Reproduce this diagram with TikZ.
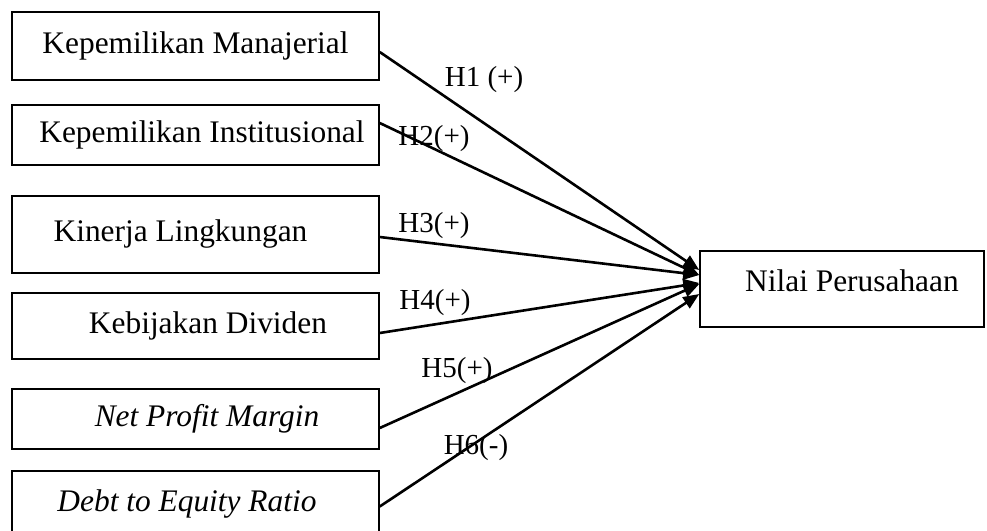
\documentclass[tikz,border=0pt]{standalone}
\usepackage{fontspec}
\setmainfont{Liberation Serif}
\usetikzlibrary{arrows.meta}

\begin{document}
\begin{tikzpicture}[x=0.5pt,y=-0.5pt,-{Triangle[length=8pt,width=6.5pt]},line width=1.3pt]
    \tikzstyle{var}=[draw, rectangle, line width=0.75pt, minimum width=183.5pt, inner sep=0pt, font=\fontsize{15.7}{19}\selectfont]
    \tikzstyle{hyp}=[inner sep=0pt, font=\fontsize{14.5}{17}\selectfont]
    \useasboundingbox (0,0) rectangle (987,531);
    \node [var, minimum height=34pt] (km) at (195.5, 46) {Kepemilikan Manajerial};
    \node [var, minimum height=30pt] (ki) at (195.5, 135) {\hspace*{6.5pt}Kepemilikan Institusional};
    \node [var, minimum height=38.5pt] (kl) at (195.5, 234.5) {\hspace*{-15pt}\raisebox{4pt}{Kinerja Lingkungan}};
    \node [var, minimum height=33pt] (kd) at (195.5, 326) {\hspace*{12.5pt}Kebijakan Dividen};
    \node [var, minimum height=30pt] (npm) at (195.5, 419) {\hspace*{11.5pt}\itshape Net Profit Margin};
    \node [var, minimum height=35.5pt] (der) at (195.5, 506.5) {\hspace*{-8.5pt}\raisebox{5.5pt}{\itshape Debt to Equity Ratio}};
    \node [var, minimum width=142pt, minimum height=38pt] (np) at (842, 289) {\hspace*{10pt}\raisebox{8pt}{Nilai Perusahaan}};

    \draw ([yshift=-3pt]km.east) -- ([yshift=9.5pt]np.west);
    \draw ([yshift=6pt]ki.east) -- ([yshift=7pt]np.west);
    \draw ([yshift=-1.25pt]kl.east) -- ([yshift=7pt]np.west);
    \draw ([yshift=-3.5pt]kd.east) -- ([yshift=3pt]np.west);
    \draw ([yshift=-4.5pt]npm.east) -- ([yshift=2.5pt]np.west);
    \draw (der.east) -- ([yshift=-2.5pt]np.west);

    \node [hyp] (h1) at (484, 80) {H1 (+)};
    \node [hyp] (h2) at (434, 139) {H2(+)};
    \node [hyp] (h3) at (434, 226) {H3(+)};
    \node [hyp] (h4) at (435, 303) {H4(+)};
    \node [hyp] (h5) at (457, 371) {H5(+)};
    \node [hyp] (h6) at (476, 448) {H6(-)};
\end{tikzpicture}
\end{document}
